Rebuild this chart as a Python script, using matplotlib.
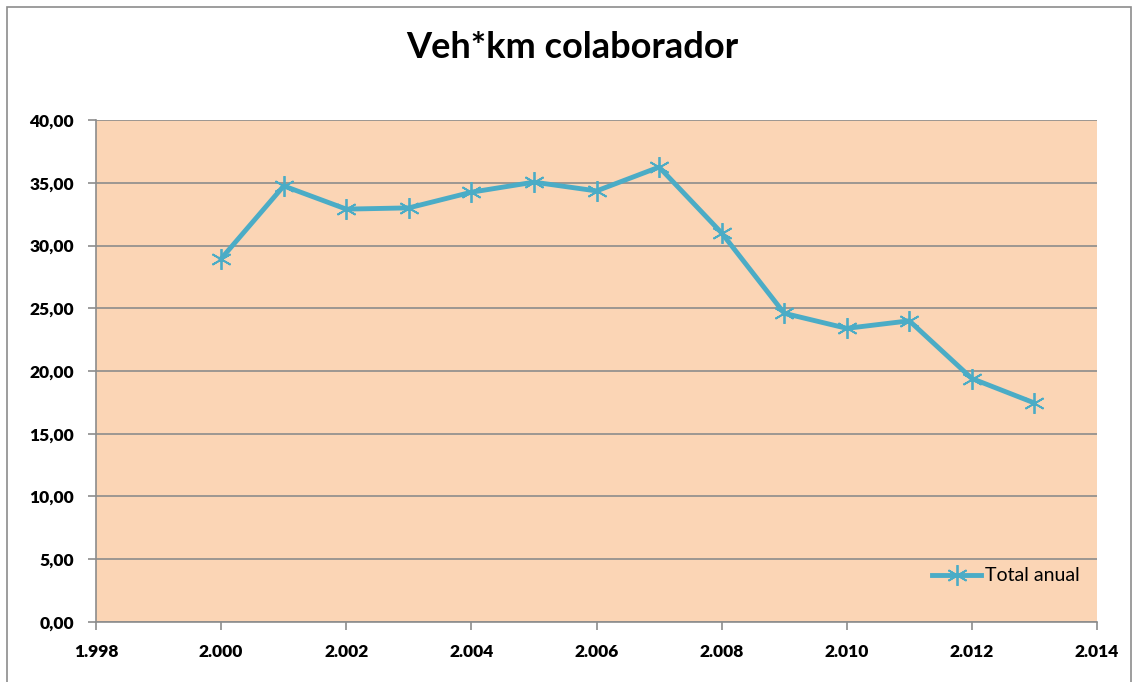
import matplotlib
matplotlib.use("Agg")
import matplotlib.pyplot as plt
from matplotlib.ticker import FuncFormatter, MultipleLocator
from matplotlib.patches import Rectangle

years = [2000, 2001, 2002, 2003, 2004, 2005, 2006, 2007, 2008, 2009, 2010, 2011, 2012, 2013]
total_anual = [28.95, 34.75, 32.9, 33.0, 34.25, 35.05, 34.35, 36.25, 31.0, 24.6, 23.4, 24.0, 19.4, 17.45]

plt.rcParams['font.family'] = ['Lato', 'DejaVu Sans']

fig = plt.figure(figsize=(11.34, 6.82), dpi=100)
ax = fig.add_axes([0.0847, 0.088, 0.8827, 0.736])

# outer chart border
fig.patches.append(Rectangle((7 / 1134, -0.01), 1 - 10 / 1134, 1 - 7 / 682 + 0.01,
                             transform=fig.transFigure, fill=False,
                             edgecolor='#8c8c8c', linewidth=1.2))

ax.set_facecolor('#fbd5b5')
ax.plot(years, total_anual, color='#4bacc6', linewidth=3.5,
        marker=(6, 2, 0), markersize=15, markeredgewidth=1.3,
        markeredgecolor='#4bacc6', label='Total anual')

ax.set_xlim(1998, 2014)
ax.set_ylim(0, 40)
ax.xaxis.set_major_locator(MultipleLocator(2))
ax.yaxis.set_major_locator(MultipleLocator(5))
ax.xaxis.set_major_formatter(FuncFormatter(lambda v, p: f"{v/1000:.3f}"))
ax.yaxis.set_major_formatter(FuncFormatter(lambda v, p: f"{v:.2f}".replace(".", ",")))

ax.grid(axis='y', color='#8c8c8c', linewidth=1.2)
ax.set_axisbelow(True)
for s in ax.spines.values():
    s.set_color('#8c8c8c')
    s.set_linewidth(1.2)
ax.spines['top'].set_visible(False)
ax.spines['right'].set_visible(False)

ax.tick_params(axis='both', colors='#8c8c8c', length=6, width=1.2,
               labelcolor='black', labelsize=12.5)
ax.tick_params(axis='y', pad=10)
ax.tick_params(axis='x', pad=10)
for lbl in ax.get_xticklabels() + ax.get_yticklabels():
    lbl.set_fontweight('heavy')

fig.text(0.505, 0.93, 'Veh*km colaborador', ha='center', va='center',
         fontsize=26, fontweight='bold')

ax.legend(loc='lower right', bbox_to_anchor=(1.0, 0.04), frameon=False,
          fontsize=14, handlelength=2.5, handletextpad=0.2)

fig.savefig('out.png', dpi=100)
